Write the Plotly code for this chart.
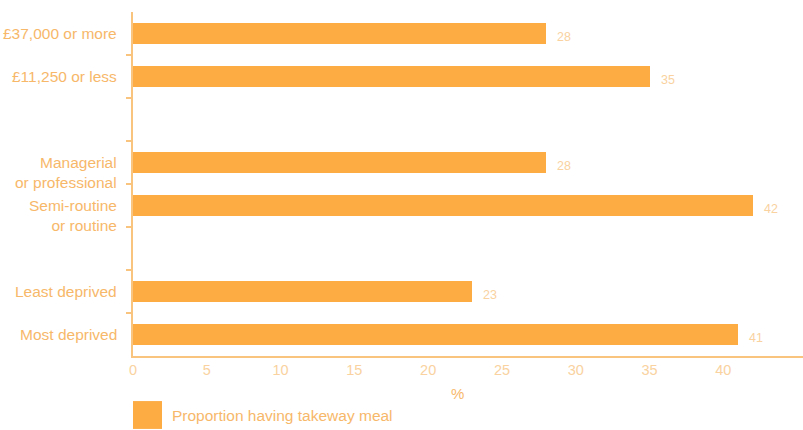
import plotly.graph_objects as go

# Data (top to bottom in the picture)
categories = ["£37,000 or more", "£11,250 or less", "", "Managerial<br>or professional",
              "Semi-routine<br>or routine", "", "Least deprived", "Most deprived"]
values = [28, 35, None, 28, 42, None, 23, 41]
value_labels = ["28", "35", "", "28", "42", "", "23", "41"]
x_ticks = [0, 5, 10, 15, 20, 25, 30, 35, 40]
legend_name = "Proportion having takeway meal"

BAR = "#fdab43"
LABEL = "#f7b86a"
TICK = "#f9d2a0"
AXIS = "#f8c47e"
FONT = "Liberation Sans, Arial, sans-serif"

n = len(categories)
ypos = [n - 1 - i for i in range(n)]  # numeric y positions, top item highest

fig = go.Figure()
bx = [v for v in values if v is not None]
by = [y for v, y in zip(values, ypos) if v is not None]
fig.add_trace(go.Bar(x=bx, y=by, orientation="h", marker=dict(color=BAR, line=dict(width=0)),
                     width=0.47, name=legend_name, showlegend=False, hoverinfo="x"))

annotations = []
for cat, v, lab, y in zip(categories, values, value_labels, ypos):
    if cat:
        nlines = cat.count("<br>") + 1
        annotations.append(dict(x=0, xref="paper", y=y, yref="y", text=cat, showarrow=False,
                                xanchor="right", yanchor="middle", xshift=-14,
                                yshift=-10 * (nlines - 1),
                                font=dict(family=FONT, size=15.5, color=LABEL),
                                align="right"))
    if v is not None:
        annotations.append(dict(x=v, xref="x", y=y, yref="y", text=lab, showarrow=False,
                                xanchor="left", yanchor="middle", xshift=9, yshift=-3,
                                font=dict(family=FONT, size=12.5, color=TICK)))

annotations.append(dict(x=22, xref="x", y=-0.11, yref="paper", text="%", showarrow=False,
                        xanchor="center", yanchor="middle",
                        font=dict(family=FONT, size=15, color=LABEL)))
annotations.append(dict(x=0.0545, xref="paper", y=-0.172, yref="paper", text=legend_name, showarrow=False,
                        xanchor="left", yanchor="middle",
                        font=dict(family=FONT, size=15.5, color=LABEL)))

shapes = [dict(type="rect", xref="paper", yref="paper", x0=0.0, x1=0.0433, y0=-0.131, y1=-0.212,
               fillcolor=BAR, line=dict(width=0))]

fig.update_layout(
    width=803, height=430,
    margin=dict(l=133, r=0, t=12, b=74),
    paper_bgcolor="white", plot_bgcolor="white",
    showlegend=False,
    bargap=0,
    annotations=annotations,
    shapes=shapes,
    xaxis=dict(range=[0, 45.4], tickvals=x_ticks, ticktext=[str(t) for t in x_ticks],
               showgrid=False, zeroline=False, showline=True, linecolor=AXIS, linewidth=2,
               ticks="", tickfont=dict(family=FONT, size=14.5, color=TICK),
               fixedrange=True),
    yaxis=dict(range=[-0.5, n - 0.5], tickvals=[i + 0.5 for i in range(n - 1)],
               showticklabels=False, showgrid=False, zeroline=False, showline=True,
               linecolor=AXIS, linewidth=2, ticks="outside", ticklen=5, tickwidth=1.5,
               tickcolor=AXIS, fixedrange=True),
)

fig.write_html("out.html")
